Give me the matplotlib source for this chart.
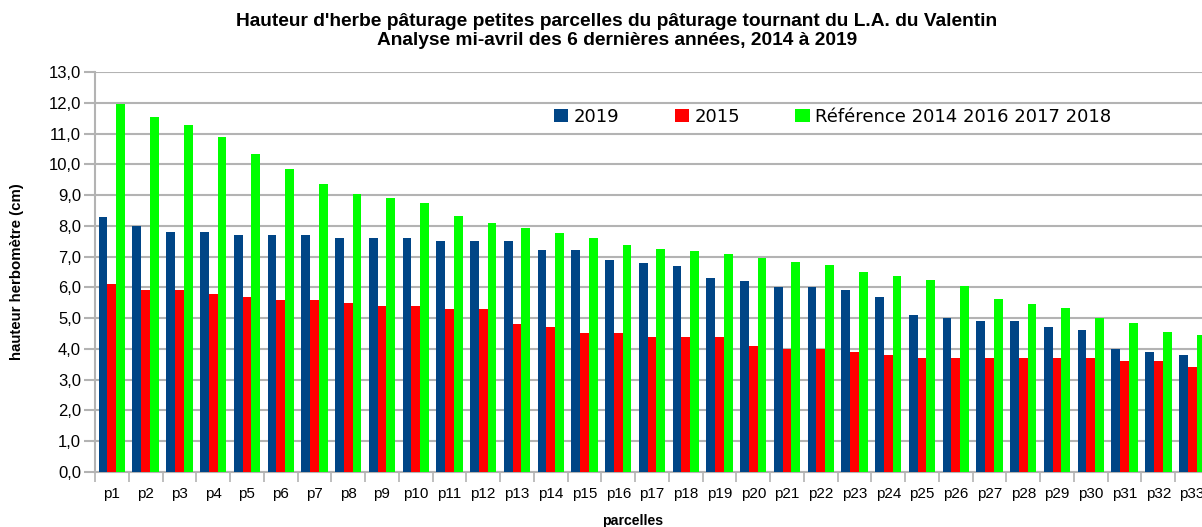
import numpy as np
import matplotlib
matplotlib.use('Agg')
import matplotlib.pyplot as plt
from matplotlib.ticker import FuncFormatter

# parcelles and measured grass heights (cm)
parcelles = ['p%d' % i for i in range(1, 34)]
h2019 = [8.3, 8.0, 7.8, 7.8, 7.7, 7.7, 7.7, 7.6, 7.6, 7.6, 7.5,
         7.5, 7.5, 7.2, 7.2, 6.9, 6.8, 6.7, 6.3, 6.2, 6.0, 6.0,
         5.9, 5.7, 5.1, 5.0, 4.9, 4.9, 4.7, 4.6, 4.0, 3.9, 3.8]
h2015 = [6.1, 5.9, 5.9, 5.8, 5.7, 5.6, 5.6, 5.5, 5.4, 5.4, 5.3,
         5.3, 4.8, 4.7, 4.5, 4.5, 4.4, 4.4, 4.4, 4.1, 4.0, 4.0,
         3.9, 3.8, 3.7, 3.7, 3.7, 3.7, 3.7, 3.7, 3.6, 3.6, 3.4]
href = [11.98, 11.54, 11.28, 10.89, 10.34, 9.85, 9.36, 9.04, 8.91, 8.74, 8.32,
        8.09, 7.93, 7.77, 7.61, 7.38, 7.25, 7.18, 7.08, 6.95, 6.82, 6.73,
        6.50, 6.37, 6.24, 6.04, 5.62, 5.46, 5.33, 5.00, 4.84, 4.55, 4.45]
series_labels = ['2019', '2015', 'Référence 2014 2016 2017 2018']
y_ticks = np.arange(0, 14)

W, H = 1202, 527
fig = plt.figure(figsize=(W / 100, H / 100), dpi=100)
ax = fig.add_axes([95 / W, 1 - 471.7 / H, 1114 / W, (471.7 - 72.3) / H])

grey = '#b3b3b3'
x = np.arange(len(parcelles))
bw = 0.26
ax.bar(x - bw, h2019, bw, color='#004586', label=series_labels[0], zorder=3)
ax.bar(x, h2015, bw, color='#ff0000', label=series_labels[1], zorder=3)
ax.bar(x + bw, href, bw, color='#00ff00', label=series_labels[2], zorder=3)

ax.set_xlim(-0.5, len(parcelles) - 0.5)
ax.set_ylim(0, 13)
ax.set_yticks(y_ticks)
ax.yaxis.set_major_formatter(FuncFormatter(lambda v, p: ('%.1f' % v).replace('.', ',')))
ax.grid(axis='y', color=grey, linewidth=1.5, zorder=0)

# ticks between the groups, labels at the centre
ax.set_xticks(np.arange(-0.5, len(parcelles)), labels=[])
ax.set_xticks(x, labels=parcelles, minor=True)
ax.tick_params(axis='x', which='major', length=7, width=1.2, color=grey)
ax.tick_params(axis='x', which='minor', length=0, pad=11, labelsize=11)
ax.tick_params(axis='y', length=8, width=1.5, color=grey, pad=2, labelsize=12)
for lab in ax.get_xticklabels(minor=True) + ax.get_yticklabels():
    lab.set_fontfamily('Liberation Sans')

for s in ['top', 'right']:
    ax.spines[s].set_visible(False)
for s in ['left', 'bottom']:
    ax.spines[s].set_color(grey)
    ax.spines[s].set_linewidth(1.5)

fig.text(617 / W, 1 - 31 / H,
         "Hauteur d'herbe pâturage petites parcelles du pâturage tournant du L.A. du Valentin\n"
         "Analyse mi-avril des 6 dernières années, 2014 à 2019",
         ha='center', va='center', fontsize=13.8, fontweight='bold',
         family='Liberation Sans', linespacing=1.15)
fig.text(17 / W, 1 - 272 / H, 'hauteur herbomètre (cm)', rotation=90,
         ha='center', va='center', fontsize=10.8, fontweight='bold', family='Liberation Sans')
fig.text(633 / W, 1 - 521 / H, 'parcelles', ha='center', va='center',
         fontsize=10.2, fontweight='bold', family='Liberation Sans')

ax.legend(ncol=3, frameon=False, loc='center left',
          bbox_to_anchor=(554 / W, 1 - 116.7 / H), bbox_transform=fig.transFigure,
          borderaxespad=0, borderpad=0, prop={'family': 'DejaVu Sans', 'size': 13},
          handlelength=0.8, handleheight=0.8, handletextpad=0.3, columnspacing=3.05)

fig.savefig('out.png', dpi=100)
